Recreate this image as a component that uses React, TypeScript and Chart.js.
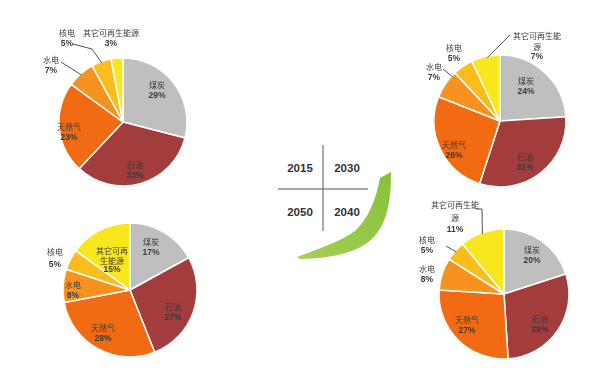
import React, { useEffect, useRef } from 'react';
import { Chart, registerables } from 'chart.js';
Chart.register(...registerables);

// ---- data ----
const categories = ['煤炭', '石油', '天然气', '水电', '核电', '其它可再生能源'];
const yearLabels = ['2015', '2030', '2050', '2040'];
const share2015 = [29, 33, 23, 7, 5, 3];
const share2030 = [24, 31, 26, 7, 5, 7];
const share2050 = [17, 27, 28, 8, 5, 15];
const share2040 = [20, 29, 27, 8, 5, 11];

// ---- styles ----
const sliceColors = ['#bfbfbf', '#a33c3c', '#f26b12', '#f7921e', '#fcbc1c', '#f8e71c'];
const BW = 1.5;

type LabelCfg = { dx: number; dy: number; lh?: number; split?: number; leader?: number[][]; t?: number };
type PieCfg = {
  year: string; data: number[]; cx: number; cy: number; r: number;
  box: { left: number; top: number; w: number; h: number }; labels: LabelCfg[];
};

const pies: PieCfg[] = [
  {
    year: yearLabels[0], data: share2015, cx: 123, cy: 122, r: 64,
    box: { left: 0, top: 0, w: 260, h: 195 },
    labels: [
      { dx: 34, dy: -37 },
      { dx: 12, dy: 43 },
      { dx: -54, dy: 5 },
      { dx: -72, dy: -62, leader: [[-62, -60]], t: 0.5 },
      { dx: -56, dy: -89, leader: [[-50, -78], [-31, -73]], t: 0.5 },
      { dx: -12, dy: -89 },
    ],
  },
  {
    year: yearLabels[1], data: share2030, cx: 500, cy: 121, r: 66,
    box: { left: 390, top: 0, w: 210, h: 195 },
    labels: [
      { dx: 26, dy: -40 },
      { dx: 25, dy: 36 },
      { dx: -46, dy: 24 },
      { dx: -66, dy: -54, leader: [[-57, -52]], t: 0.85 },
      { dx: -46, dy: -73 },
      { dx: 37, dy: -85, split: 6, leader: [[10, -86]], t: 0.55 },
    ],
  },
  {
    year: yearLabels[2], data: share2050, cx: 130, cy: 290, r: 67,
    box: { left: 0, top: 195, w: 260, h: 186 },
    labels: [
      { dx: 21, dy: -48 },
      { dx: 43, dy: 17 },
      { dx: -27, dy: 38 },
      { dx: -57, dy: -5 },
      { dx: -75, dy: -38, lh: 13 },
      { dx: -18, dy: -39, lh: 9.5, split: 4 },
    ],
  },
  {
    year: yearLabels[3], data: share2040, cx: 504, cy: 294, r: 65,
    box: { left: 390, top: 195, w: 210, h: 186 },
    labels: [
      { dx: 28, dy: -44 },
      { dx: 36, dy: 25 },
      { dx: -37, dy: 26 },
      { dx: -77, dy: -25 },
      { dx: -77, dy: -54, leader: [[-58, -48]], t: 0.5 },
      { dx: -49, dy: -89, lh: 12.5, split: 6, leader: [[-28, -85], [-22, -85]], t: 0.5 },
    ],
  },
];

const labelPlugin = (cfg: PieCfg) => ({
  id: 'pieLabels' + cfg.year,
  afterDatasetsDraw(chart: any) {
    const ctx = chart.ctx as CanvasRenderingContext2D;
    const meta = chart.getDatasetMeta(0);
    meta.data.forEach((arc: any, i: number) => {
      const p = arc.getProps(['x', 'y', 'startAngle', 'endAngle', 'outerRadius'], true);
      const L = cfg.labels[i];
      if (!L) return;
      const name = categories[i];
      const lines = L.split ? [name.slice(0, L.split), name.slice(L.split)] : [name];
      const lh = L.lh ?? 10.5;
      ctx.save();
      ctx.fillStyle = '#3a3a3a';
      ctx.textAlign = 'center';
      ctx.textBaseline = 'middle';
      let y = p.y + L.dy;
      lines.forEach((ln) => {
        ctx.font = '8px "Noto Sans CJK SC", sans-serif';
        ctx.fillText(ln, p.x + L.dx, y);
        y += lh;
      });
      ctx.font = 'bold 8.5px "Liberation Sans", Arial, sans-serif';
      ctx.fillText(cfg.data[i] + '%', p.x + L.dx, y);
      if (L.leader) {
        const t = L.t ?? 0.5;
        const a = p.startAngle + (p.endAngle - p.startAngle) * t;
        ctx.strokeStyle = '#404040';
        ctx.lineWidth = 0.9;
        ctx.beginPath();
        L.leader.forEach((pt, k) => {
          if (k === 0) ctx.moveTo(p.x + pt[0], p.y + pt[1]);
          else ctx.lineTo(p.x + pt[0], p.y + pt[1]);
        });
        ctx.lineTo(p.x + Math.cos(a) * p.outerRadius * 0.98, p.y + Math.sin(a) * p.outerRadius * 0.98);
        ctx.stroke();
      }
      ctx.restore();
    });
  },
});

function Pie({ cfg }: { cfg: PieCfg }) {
  const ref = useRef<HTMLCanvasElement>(null);
  useEffect(() => {
    if (!ref.current) return;
    const half = cfg.r + BW / 2;
    const padding = {
      left: cfg.cx - cfg.box.left - half,
      top: cfg.cy - cfg.box.top - half,
      right: cfg.box.left + cfg.box.w - (cfg.cx + half),
      bottom: cfg.box.top + cfg.box.h - (cfg.cy + half),
    };
    const chart = new Chart(ref.current, {
      type: 'pie',
      data: {
        labels: categories,
        datasets: [{
          data: cfg.data,
          backgroundColor: sliceColors,
          borderColor: '#ffffff',
          borderWidth: BW,
        }],
      },
      options: {
        responsive: false,
        animation: false,
        layout: { padding },
        plugins: { legend: { display: false }, tooltip: { enabled: false } },
      },
      plugins: [labelPlugin(cfg)],
    });
    return () => chart.destroy();
  }, [cfg]);
  return (
    <canvas
      ref={ref}
      width={cfg.box.w}
      height={cfg.box.h}
      style={{ position: 'absolute', left: cfg.box.left, top: cfg.box.top, width: cfg.box.w, height: cfg.box.h }}
    />
  );
}

export default function App() {
  return (
    <div style={{ position: 'absolute', left: 0, top: 0, width: 600, height: 381, background: '#fff', overflow: 'hidden' }}>
      <svg width={600} height={381} style={{ position: 'absolute', left: 0, top: 0 }}>
        <defs>
          <linearGradient id="g" x1="0" y1="1" x2="1" y2="0">
            <stop offset="0" stopColor="#a6cf55" />
            <stop offset="1" stopColor="#86c13a" />
          </linearGradient>
        </defs>
        <line x1={323} y1={145} x2={323} y2={231} stroke="#555" strokeWidth={1} />
        <line x1={278} y1={189} x2={368} y2={189} stroke="#555" strokeWidth={1} />
        <g fontFamily='"Liberation Sans", Arial, sans-serif' fontWeight="bold" fontSize={11.5} fill="#333" textAnchor="middle">
          <text x={300} y={172}>{yearLabels[0]}</text>
          <text x={347} y={172}>{yearLabels[1]}</text>
          <text x={300} y={216}>{yearLabels[2]}</text>
          <text x={347} y={216}>{yearLabels[3]}</text>
        </g>
        <path
          d="M380,178 L391,172 C391,205 386,225 372,239 C358,252 335,258 300,259 L297,257 C318,249 340,242 355,231 C368,219 376,200 380,178 Z"
          fill="url(#g)"
        />
      </svg>
      {pies.map((p) => (
        <Pie key={p.year} cfg={p} />
      ))}
    </div>
  );
}
